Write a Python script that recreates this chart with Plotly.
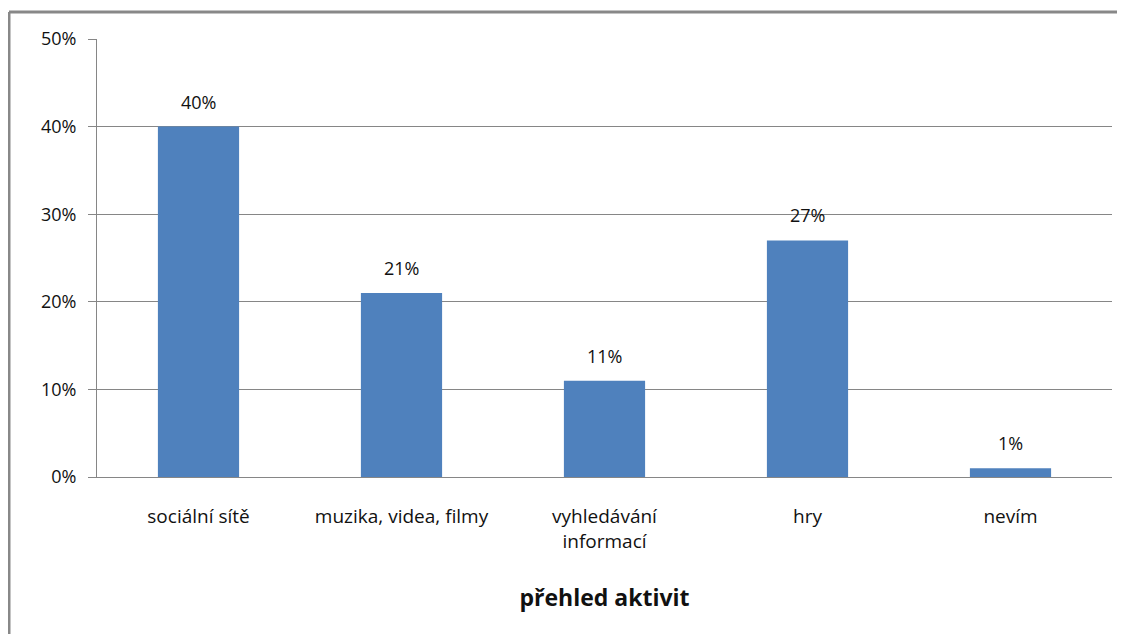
import plotly.graph_objects as go

categories = ["sociální sítě", "muzika, videa, filmy", "vyhledávání<br>informací", "hry", "nevím"]
values = [40, 21, 11, 27, 1]
y_ticks = [0, 10, 20, 30, 40, 50]
y_ticktext = ["0%", "10%", "20%", "30%", "40%", "50%"]

BLUE = "#4F81BD"
GRID = "#868686"
FRAME = "#888888"
FONT = "'Open Sans', Lato, sans-serif"

fig = go.Figure(
    go.Bar(
        x=categories,
        y=values,
        marker=dict(color=BLUE, line=dict(width=0)),
        hoverinfo="x+y",
    )
)

# value labels above the bars
for c, v in zip(categories, values):
    fig.add_annotation(
        x=c, y=v, text=f"{v}%", showarrow=False,
        yanchor="bottom", yshift=11,
        font=dict(size=18, color="#111"),
    )

# outer chart frame (only left and top edges are inside the picture)
frame = [
    dict(type="line", xref="paper", yref="paper",
         x0=-0.0867, x1=-0.0867, y0=-0.5, y1=1.0616,
         line=dict(color=FRAME, width=3)),
    dict(type="line", xref="paper", yref="paper",
         x0=-0.0867, x1=1.2, y0=1.0616, y1=1.0616,
         line=dict(color=FRAME, width=3)),
]

# the page body adds an 8px offset, margins compensate for it
fig.update_layout(
    width=1125,
    height=634,
    plot_bgcolor="white",
    paper_bgcolor="white",
    font=dict(family=FONT, size=18, color="#111"),
    margin=dict(l=89, r=21, t=31, b=165),
    bargap=0.6,
    showlegend=False,
    shapes=frame,
)

fig.update_yaxes(
    range=[0, 50],
    tickvals=y_ticks,
    ticktext=y_ticktext,
    showgrid=True,
    gridcolor=GRID,
    gridwidth=1,
    showline=True,
    linecolor=GRID,
    linewidth=1,
    ticks="outside",
    ticklen=8,
    tickcolor=GRID,
    ticklabelstandoff=8,
    zeroline=False,
)

fig.update_xaxes(
    showline=True,
    linecolor=GRID,
    linewidth=1,
    ticks="",
    tickfont=dict(size=19),
    ticklabelstandoff=22,
    title=dict(text="<b>přehled aktivit</b>", font=dict(size=23), standoff=37),
)

fig.write_html("out.html")
